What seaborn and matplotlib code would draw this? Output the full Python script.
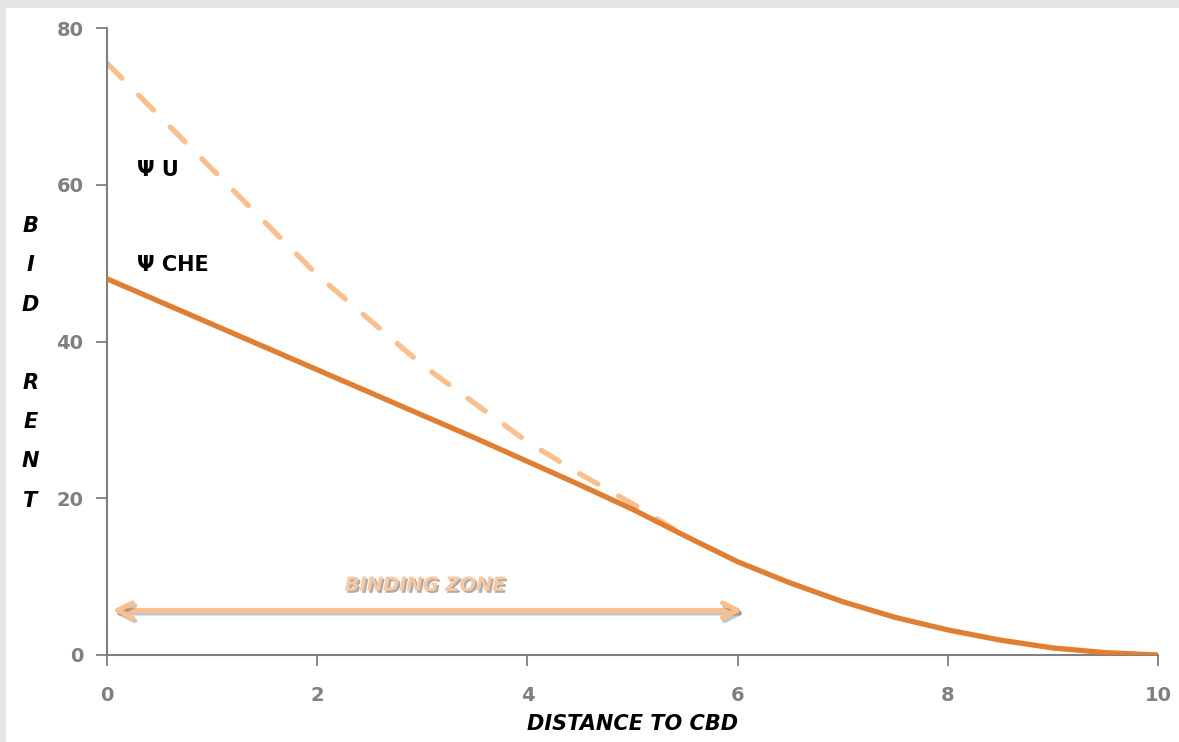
import matplotlib
matplotlib.use("Agg")
import matplotlib.pyplot as plt
import matplotlib.patheffects as pe
from matplotlib.patches import Rectangle
import pandas as pd
import seaborn as sns


# Valores.
distancia_che = [0, 0.5, 1, 1.5, 2, 2.5, 3, 3.5, 4, 4.5, 5, 5.5, 6, 6.5, 7, 7.5, 8, 8.5, 9, 9.5, 10]
renda_che = [48, 45.1, 42.2, 39.3, 36.4, 33.5, 30.6, 27.7, 24.7, 21.7, 18.6, 15.2, 11.9,
             9.2, 6.8, 4.8, 3.2, 1.9, 0.9, 0.3, 0.0]

distancia_u = [0, 1, 2, 3, 4, 4.5, 5, 5.4]
renda_u = [75.5, 62, 48.5, 37, 27.2, 23.1, 19.3, 16.0]

x_ticks = [0, 2, 4, 6, 8, 10]
y_ticks = [0, 20, 40, 60, 80]

zona_inicio, zona_fim, zona_altura = 0.05, 6.05, 5.7

COR_CHE = "#E07F31"
COR_U = "#F9BF8E"
COR_EIXO = "#808080"

sns.set_theme(style="white")
plt.rcParams["font.family"] = ["DejaVu Sans"]

fig = plt.figure(figsize=(11.79, 7.42), dpi=100)
fig.patch.set_facecolor("#E6E6E6")
fig.patches.append(Rectangle((6 / 1179, 0), 1, 1 - 8 / 742, transform=fig.transFigure,
                             facecolor="white", edgecolor="none", zorder=-10))
ax = fig.add_axes([107 / 1179, 1 - 655 / 742, 1051 / 1179, 627 / 742])
ax.set_zorder(1)
ax.set_facecolor("none")

df_che = pd.DataFrame({"distancia": distancia_che, "renda": renda_che})
df_u = pd.DataFrame({"distancia": distancia_u, "renda": renda_u})

sns.lineplot(data=df_u, x="distancia", y="renda", ax=ax, color=COR_U, lw=3.8,
             linestyle=(0, (4, 4.5)), dash_capstyle="round", zorder=2)
sns.lineplot(data=df_che, x="distancia", y="renda", ax=ax, color=COR_CHE, lw=3.8,
             solid_capstyle="butt", solid_joinstyle="round", zorder=3)

# Seta da zona de disputa.
ax.annotate("", xy=(zona_inicio, zona_altura), xytext=(zona_fim, zona_altura),
            arrowprops=dict(arrowstyle="<->,head_length=0.9,head_width=0.45",
                            color=COR_U, lw=3.5, shrinkA=0, shrinkB=0,
                            path_effects=[pe.SimpleLineShadow(offset=(1.5, -2), alpha=0.25),
                                          pe.Normal()]))
ax.text(3.03, 8.9, "BINDING ZONE", ha="center", va="center", fontsize=14,
        fontweight="bold", fontstyle="italic", color="#F9C8A0",
        path_effects=[pe.withSimplePatchShadow(offset=(1.5, -1.5), shadow_rgbFace="#8a8a8a", alpha=0.7)])

ax.text(0.29, 61.9, "Ψ U", ha="left", va="center", fontsize=15, fontweight="bold", color="black")
ax.text(0.29, 49.8, "Ψ CHE", ha="left", va="center", fontsize=15, fontweight="bold", color="black")

ax.set_xlim(0, 10)
ax.set_ylim(0, 80)
ax.set_xticks(x_ticks)
ax.set_yticks(y_ticks)
ax.tick_params(axis="both", colors=COR_EIXO, length=8, width=1.3, direction="out",
               labelsize=14, labelcolor=COR_EIXO, bottom=True, left=True)
ax.tick_params(axis="x", pad=14)
ax.tick_params(axis="y", pad=9)
for rotulo in ax.get_xticklabels() + ax.get_yticklabels():
    rotulo.set_fontweight("bold")

for lado in ["top", "right"]:
    ax.spines[lado].set_visible(False)
for lado in ["left", "bottom"]:
    ax.spines[lado].set_color(COR_EIXO)
    ax.spines[lado].set_linewidth(1.5)

ax.set_xlabel("DISTANCE TO CBD", fontsize=15, fontweight="bold", fontstyle="italic",
              color="black", labelpad=7)
ax.set_ylabel("B\nI\nD\n\nR\nE\nN\nT", rotation=0, fontsize=15, fontweight="bold",
              fontstyle="italic", color="black", linespacing=2.2, va="center")
ax.yaxis.set_label_coords(-0.073, 0.465)

fig.savefig("out.png", dpi=100)
plt.close(fig)
